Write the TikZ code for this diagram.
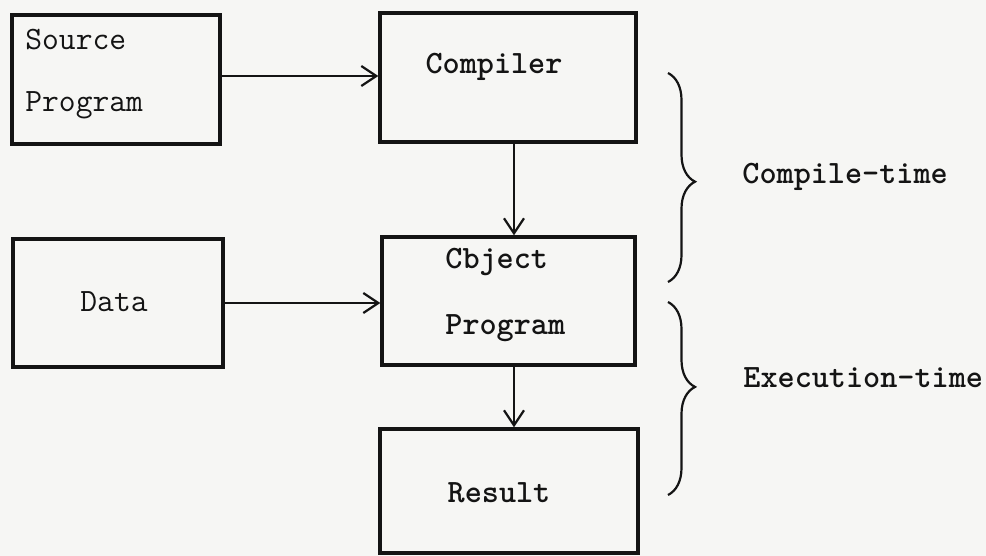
\documentclass[tikz,border=0pt]{standalone}
\usepackage{fontspec}
\newfontfamily\twbold{lmmonolt10-bold.otf}
\usetikzlibrary{arrows.meta,decorations.pathreplacing}
\definecolor{ink}{RGB}{20,20,20}
\definecolor{paper}{RGB}{246,246,244}
\begin{document}
\begin{tikzpicture}[x=0.5pt,y=-0.5pt,
  box/.style={draw=ink,line width=1.7pt,rectangle,inner sep=0pt},
  txt/.style={inner sep=0pt,text=ink,font=\ttfamily\fontsize{16.3pt}{18pt}\selectfont},
  btxt/.style={txt,font=\twbold\fontsize{16.3pt}{18pt}\selectfont},
  conn/.style={draw=ink,line width=1.1pt,-{Straight Barb[length=7.5pt,width=10pt,line width=1.1pt]}},
  brc/.style={draw=ink,line width=1.1pt,decorate,decoration={brace,amplitude=13.5pt}}]
\fill[paper] (0,0) rectangle (986,556);
\useasboundingbox (0,0) rectangle (986,556);
\begin{scope}
\clip (0,0) rectangle (986,556);
% boxes
\node[box,minimum width=104pt,minimum height=64.5pt] (src) at (116,79.5) {};
\node[box,minimum width=128pt,minimum height=64.5pt] (comp) at (508,77.5) {};
\node[box,minimum width=105pt,minimum height=64pt] (data) at (118,303) {};
\node[box,minimum width=126.5pt,minimum height=64pt] (obj) at (508.5,301) {};
\node[box,minimum width=129pt,minimum height=62pt] (res) at (509,491) {};
% texts
\node[txt,anchor=west] (srcA) at (25,40) {Source};
\node[txt,anchor=west] (srcB) at (25,105) {Program};
\node[btxt] (compT) at (494,67) {Compiler};
\node[txt] (dataT) at (114,302) {Data};
\node[btxt,anchor=west] (objA) at (445,262) {Cbject};
\node[btxt,anchor=west] (objB) at (445,328) {Program};
\node[btxt] (resT) at (499,493) {Result};
\node[btxt,anchor=west] (ct) at (742,177) {Compile-time};
\node[btxt,anchor=west] (et) at (743,378) {Execution-time};
% connectors
\coordinate (s1) at ([yshift=1.75pt]src.east);
\draw[conn] (s1) -- (s1 -| comp.west);
\draw[conn] (data.east) -- (data.east -| obj.west);
\coordinate (c1) at ([xshift=3pt]comp.south);
\draw[conn] (c1) -- (c1 |- obj.north);
\coordinate (o1) at ([xshift=2.75pt]obj.south);
\draw[conn] (o1) -- (o1 |- res.north);
% braces
\coordinate (b1t) at (668,73);
\coordinate (b1b) at (668,282);
\coordinate (b2t) at (668,302);
\coordinate (b2b) at (668,495);
\draw[brc,decoration={aspect=0.52}] (b1t) -- (b1b);
\draw[brc,decoration={aspect=0.44}] (b2t) -- (b2b);
\end{scope}
\end{tikzpicture}
\end{document}
